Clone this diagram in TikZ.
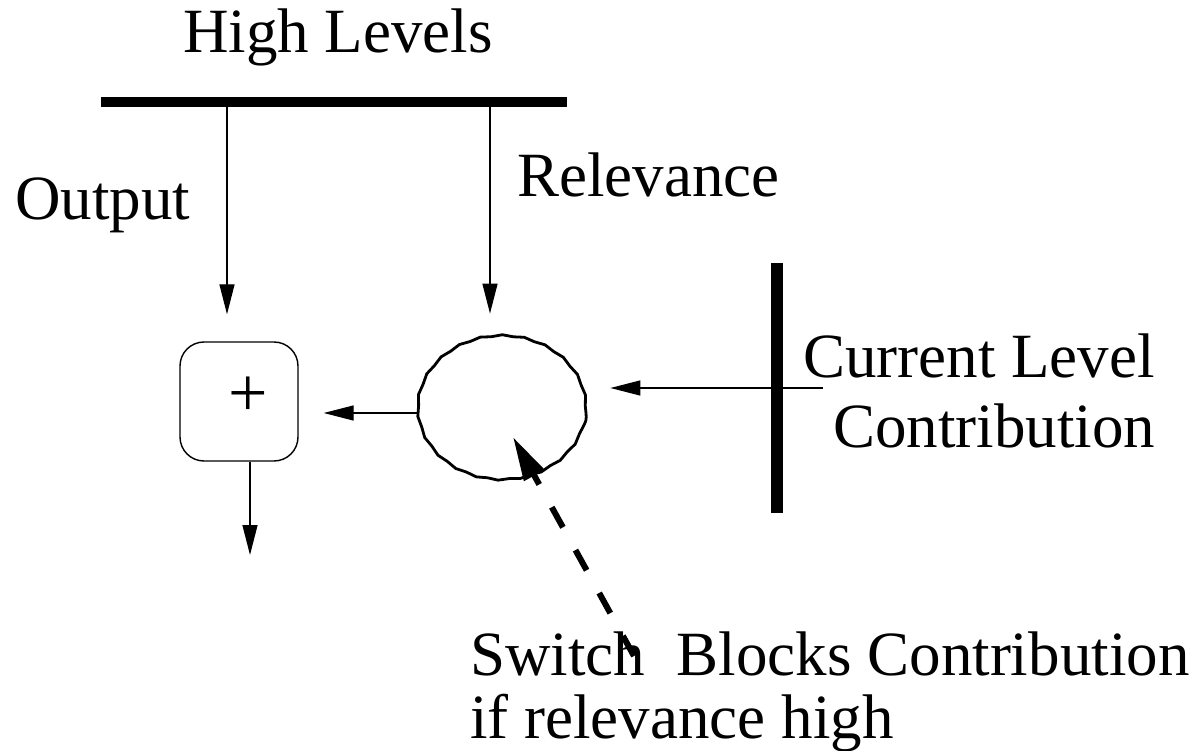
\documentclass[tikz,border=0pt]{standalone}
\usepackage{fontspec}
\setmainfont{Liberation Serif}
\usetikzlibrary{arrows.meta,shapes.geometric,decorations.pathmorphing,calc}
\tikzset{
  thinline/.style={line width=1.4pt},
  flow/.style={thinline,-{Triangle[length=30pt,width=15pt]}},
  bar/.style={line width=#1, line cap=butt},
  lbl/.style={inner sep=0pt, font=\fontsize{63}{70}\selectfont},
}
\begin{document}
\begin{tikzpicture}[x=1pt,y=-1pt]
\useasboundingbox (0,0) rectangle (1203,751);

% labels
\node[lbl, anchor=base west] (hl) at (183,53) {High Levels};
\node[lbl, anchor=base west] (out) at (15,220) {Output};
\node[lbl, anchor=base west] (rel) at (517,197) {Relevance};
\node[lbl, anchor=base west] (cl1) at (803,378) {Current Level};
\node[lbl, anchor=base west] (cl2) at (833,447) {Contribution};
\node[lbl, anchor=base west] (sw1) at (470,675) {Switch\ \ Blocks Contribution};
\node[lbl, anchor=base west] (sw2) at (470,738) {if relevance high};

% thick bars
\draw[bar=10pt] (101,102) -- (567,102);
\draw[bar=12pt] (777,263) -- (777,513);
\coordinate (tapO) at (227,107);
\coordinate (tapR) at (490,107);

% summing box and switch
\node[draw, thinline, rounded corners=24pt, minimum width=118pt, minimum height=119pt, inner sep=0pt] (sum) at (239,401.5) {};
\node[inner sep=0pt, font=\fontsize{70}{70}\selectfont] (plus) at (248,397) {+};
\node[draw, ellipse, line width=2.8pt, minimum width=168pt, minimum height=144pt, inner sep=0pt,
      decorate, decoration={snake, amplitude=0.7pt, segment length=22pt}] (sw) at (502,413) {};

% connectors
\draw[flow, shorten >=27pt] (tapO) -- (tapO |- sum.north);
\draw[flow, shorten >=26pt] (tapR) -- (tapR |- sw.north);
\draw[flow, shorten >=25pt] (sw.west) -- (sw.west -| sum.east);
\coordinate (cur) at (823,388);
\draw[flow, shorten >=23pt] (cur) -- (cur -| sw.east);
\coordinate (sumout) at (250,555);
\draw[flow] (sumout |- sum.south) -- (sumout);

% dashed control line
\coordinate (ctl) at (634,656);
\coordinate (ctltip) at (513,437);
\draw[line width=6pt, dash pattern=on 23pt off 26pt, -{Triangle[length=44pt,width=22pt]}] (ctl) -- (ctltip);
\end{tikzpicture}
\end{document}
